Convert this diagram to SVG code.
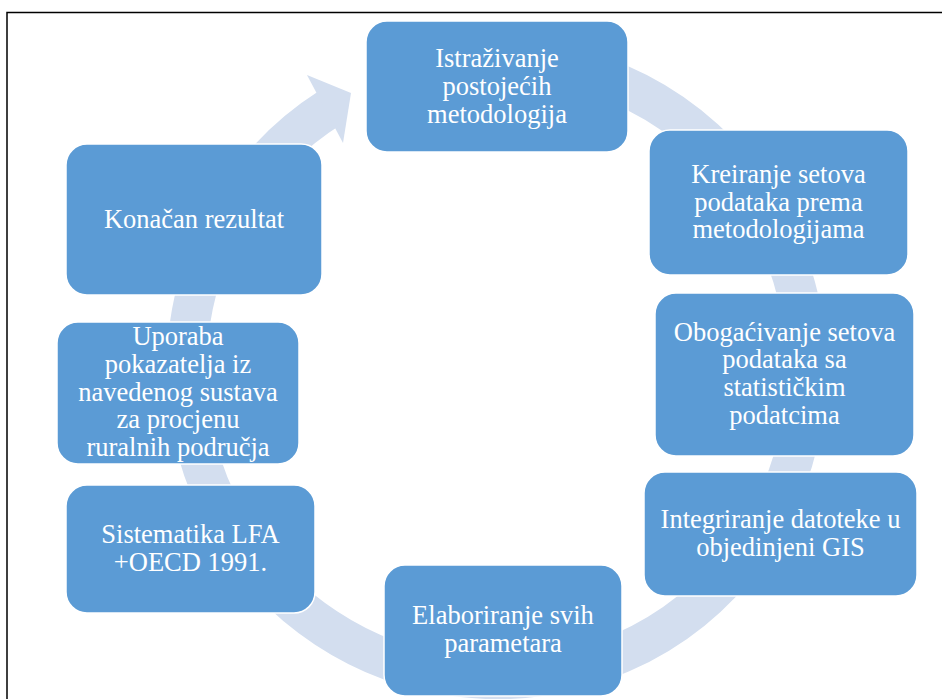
<svg xmlns="http://www.w3.org/2000/svg" width="942" height="699" viewBox="0 0 942 699">
<style>
.box{fill:#5B9BD5;stroke:#FFFFFF;stroke-width:1.5}
.t{font-family:"Liberation Serif","Times New Roman",serif;font-size:26.5px;fill:#FFFFFF;text-anchor:middle}
.ring{fill:none;stroke:#D3DEEF;stroke-width:40}
</style>
<rect x="0" y="0" width="942" height="699" fill="#FFFFFF"/>
<path d="M7 699 V12.5 H942" fill="none" stroke="#000000" stroke-width="1.5"/>
<g id="connectors">
<path class="ring" d="M416.8 69.6 A310 310 0 1 1 330.4 107.5"/>
<polygon points="307,75 351,93 343,143" fill="#D3DEEF"/>
</g>
<g id="n1">
<rect class="box" x="366" y="21" width="262" height="131" rx="21"/>
<text class="t" x="497" y="67">Istraživanje</text>
<text class="t" x="497" y="95">postojećih</text>
<text class="t" x="497" y="123">metodologija</text>
</g>
<g id="n2">
<rect class="box" x="649" y="130" width="259" height="145" rx="21"/>
<text class="t" x="778.5" y="183">Kreiranje setova</text>
<text class="t" x="778.5" y="210.5">podataka prema</text>
<text class="t" x="778.5" y="238">metodologijama</text>
</g>
<g id="n3">
<rect class="box" x="655" y="293" width="259" height="163" rx="21"/>
<text class="t" x="784.5" y="340.5">Obogaćivanje setova</text>
<text class="t" x="784.5" y="368">podataka sa</text>
<text class="t" x="784.5" y="396">statističkim</text>
<text class="t" x="784.5" y="423.5">podatcima</text>
</g>
<g id="n4">
<rect class="box" x="644" y="472" width="273" height="124" rx="21"/>
<text class="t" x="780.5" y="528">Integriranje datoteke u</text>
<text class="t" x="780.5" y="555.5">objedinjeni GIS</text>
</g>
<g id="n5">
<rect class="box" x="384" y="565" width="238" height="131" rx="21"/>
<text class="t" x="503" y="624">Elaboriranje svih</text>
<text class="t" x="503" y="651.5">parametara</text>
</g>
<g id="n6">
<rect class="box" x="66" y="485" width="249" height="128" rx="21"/>
<text class="t" x="190.5" y="543">Sistematika LFA</text>
<text class="t" x="190.5" y="570.5">+OECD 1991.</text>
</g>
<g id="n7">
<rect class="box" x="57" y="322" width="242" height="142" rx="21"/>
<text class="t" x="178" y="345">Uporaba</text>
<text class="t" x="178" y="372.5">pokazatelja iz</text>
<text class="t" x="178" y="400.5">navedenog sustava</text>
<text class="t" x="178" y="428">za procjenu</text>
<text class="t" x="178" y="456">ruralnih područja</text>
</g>
<g id="n8">
<rect class="box" x="66" y="144" width="256" height="151" rx="21"/>
<text class="t" x="194" y="228">Konačan rezultat</text>
</g>
</svg>
